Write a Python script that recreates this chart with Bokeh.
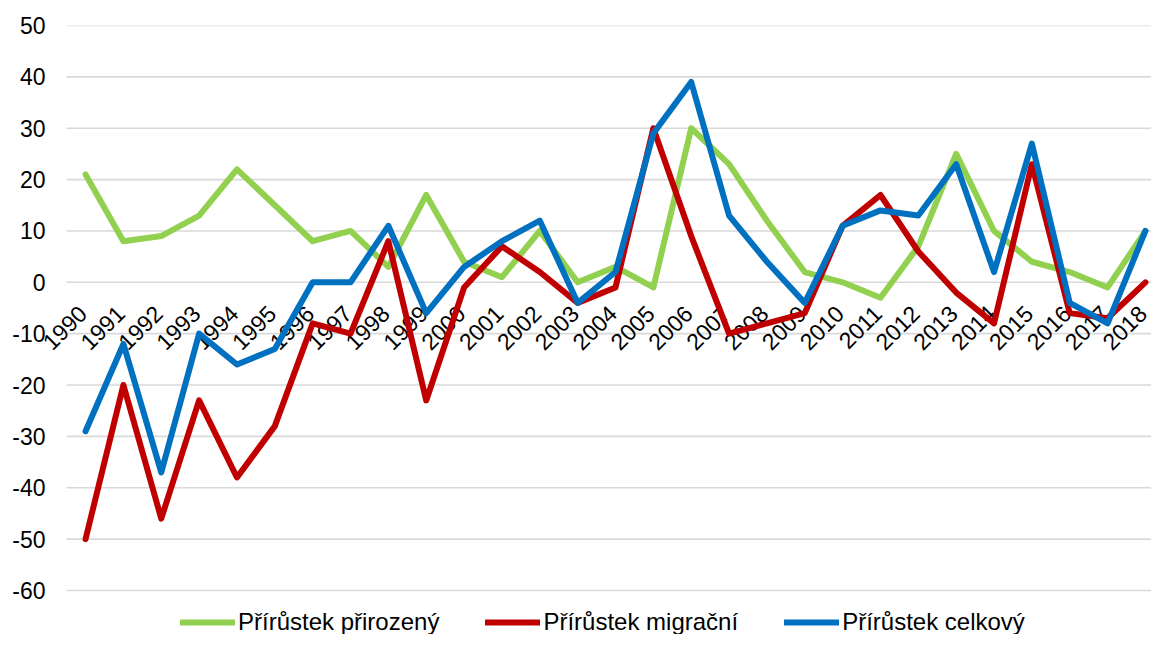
from math import pi
from bokeh.plotting import figure
from bokeh.models import Legend, LegendItem, FixedTicker, Range1d, Label
from bokeh.embed import file_html
from bokeh.resources import INLINE

years = [1990, 1991, 1992, 1993, 1994, 1995, 1996, 1997, 1998, 1999,
         2000, 2001, 2002, 2003, 2004, 2005, 2006, 2007, 2008, 2009,
         2010, 2011, 2012, 2013, 2014, 2015, 2016, 2017, 2018]
year_labels = [str(y) for y in years]

natural = [21, 8, 9, 13, 22, 15, 8, 10, 3, 17,
           4, 1, 10, 0, 3, -1, 30, 23, 12, 2,
           0, -3, 7, 25, 10, 4, 2, -1, 10]
migration = [-50, -20, -46, -23, -38, -28, -8, -10, 8, -23,
             -1, 7, 2, -4, -1, 30, 9, -10, -8, -6,
             11, 17, 6, -2, -8, 23, -6, -7, 0]
total = [-29, -12, -37, -10, -16, -13, 0, 0, 11, -6,
         3, 8, 12, -4, 2, 29, 39, 13, 4, -4,
         11, 14, 13, 23, 2, 27, -4, -8, 10]

y_ticks = [-60, -50, -40, -30, -20, -10, 0, 10, 20, 30, 40, 50]
y_tick_labels = ["-60", "-50", "-40", "-30", "-20", "-10", "0", "10", "20", "30", "40", "50"]

series_names = ["Přírůstek přirozený", "Přírůstek migrační", "Přírůstek celkový"]
series_colors = ["#92D050", "#C00000", "#0070C0"]

FONT = "Liberation Sans"

X_START, X_END = 1988.81, 2018.16
GRID_START = 1989.5

p = figure(width=1151, height=634, output_backend="svg", toolbar_location=None,
           x_range=Range1d(X_START, X_END), y_range=Range1d(-68.57, 50),
           min_border_left=40, min_border_right=0, min_border_top=25,
           min_border_bottom=0)
p.outline_line_color = None
p.background_fill_color = "white"
p.border_fill_color = "white"

p.xaxis.visible = False
p.xgrid.grid_line_color = None
p.ygrid.grid_line_color = None

yax = p.yaxis[0]
yax.ticker = FixedTicker(ticks=y_ticks)
yax.major_label_overrides = {t: s for t, s in zip(y_ticks, y_tick_labels)}
yax.axis_line_color = None
yax.major_tick_line_color = None
yax.minor_tick_line_color = None
yax.major_tick_in = 0
yax.major_tick_out = 0
yax.major_label_standoff = -5
yax.major_label_text_font = FONT
yax.major_label_text_font_size = "23px"
yax.major_label_text_color = "#000000"

# horizontal gridlines starting at the plot-area edge
n = len(y_ticks)
p.segment(x0=[GRID_START] * n, y0=y_ticks, x1=[X_END + 1] * n, y1=y_ticks,
          line_color="#d9d9d9", line_width=1.6, level="underlay")

# category labels sitting on the zero line (Excel-style crossing axis)
for yr, lbl in zip(years, year_labels):
    p.add_layout(Label(x=yr, y=0, text=lbl, angle=pi / 4,
                       text_align="right", text_baseline="middle",
                       x_offset=-3, y_offset=-27, level="guide",
                       text_font=FONT, text_font_size="23px",
                       text_color="#000000"))

renderers = []
for vals, color in zip([natural, migration, total], series_colors):
    r = p.line(years, vals, line_color=color, line_width=6, line_join="round",
               line_cap="round", level="annotation")
    renderers.append(r)

legend = Legend(items=[LegendItem(label=nm, renderers=[r]) for nm, r in zip(series_names, renderers)],
                orientation="horizontal", location=(140, -2),
                glyph_width=55, glyph_height=24, label_standoff=3, spacing=46,
                padding=0, margin=0, label_text_font=FONT,
                label_text_font_size="24px", label_text_color="#000000",
                background_fill_alpha=0, border_line_alpha=0)
p.add_layout(legend, "center")

open("out.html", "w").write(file_html(p, INLINE))
